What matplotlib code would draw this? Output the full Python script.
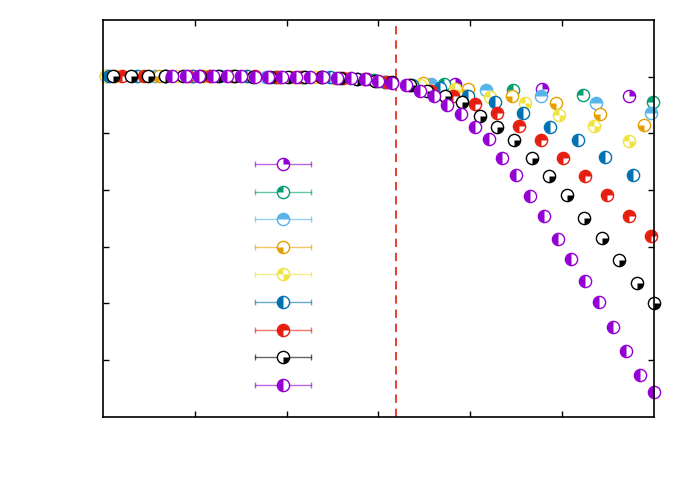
import numpy as np
import matplotlib
matplotlib.use("Agg")
import matplotlib.pyplot as plt
from matplotlib.path import Path

# values (x: 0..6, y: 0..7, plateau ~6)
x_s1 = [0.03, 0.98, 1.93, 2.88, 3.83, 4.78, 5.73]
y_s1 = [6.01, 6.01, 6.00, 5.95, 5.87, 5.79, 5.66]

x_s2 = [0.67, 1.43, 2.19, 2.95, 3.71, 4.47, 5.23, 5.99]
y_s2 = [6.01, 6.01, 5.99, 5.94, 5.87, 5.77, 5.68, 5.55]

x_s3 = [0.57, 1.17, 1.77, 2.37, 2.97, 3.57, 4.17, 4.77, 5.37, 5.97]
y_s3 = [6.01, 6.01, 6.00, 5.99, 5.93, 5.87, 5.77, 5.65, 5.53, 5.35]

x_s4 = [0.13, 0.61, 1.09, 1.57, 2.05, 2.53, 3.01, 3.49, 3.97, 4.45, 4.93, 5.41, 5.89]
y_s4 = [6.01, 6.01, 6.01, 6.01, 6.00, 5.98, 5.92, 5.89, 5.78, 5.66, 5.53, 5.34, 5.15]

x_s5 = [0.03, 0.41, 0.79, 1.17, 1.55, 1.93, 2.31, 2.69, 3.07, 3.45, 3.83, 4.21,
        4.59, 4.97, 5.35, 5.73]
y_s5 = [6.01, 6.01, 6.01, 6.01, 6.01, 6.00, 5.99, 5.97, 5.91, 5.85, 5.78, 5.64,
        5.53, 5.33, 5.13, 4.87]

x_s6 = [0.07, 0.37, 0.67, 0.97, 1.27, 1.57, 1.87, 2.17, 2.47, 2.77, 3.07, 3.37,
        3.67, 3.97, 4.27, 4.57, 4.87, 5.17, 5.47, 5.77]
y_s6 = [6.01, 6.01, 6.01, 6.01, 6.01, 6.01, 6.00, 6.00, 5.99, 5.96, 5.91, 5.86,
        5.80, 5.66, 5.55, 5.36, 5.12, 4.89, 4.58, 4.27]

x_s7 = [0.21, 0.45, 0.69, 0.93, 1.17, 1.41, 1.65, 1.89, 2.13, 2.37, 2.61, 2.85,
        3.09, 3.33, 3.57, 3.81, 4.05, 4.29, 4.53, 4.77, 5.01, 5.25, 5.49, 5.73, 5.97]
y_s7 = [6.01, 6.01, 6.01, 6.01, 6.01, 6.01, 6.01, 6.00, 6.00, 5.99, 5.98, 5.95,
        5.91, 5.85, 5.75, 5.65, 5.52, 5.35, 5.13, 4.88, 4.57, 4.25, 3.91, 3.54, 3.19]

x_s8 = [0.11, 0.30, 0.49, 0.68, 0.87, 1.06, 1.25, 1.44, 1.63, 1.82, 2.01, 2.20,
        2.39, 2.58, 2.77, 2.96, 3.15, 3.34, 3.53, 3.72, 3.91, 4.10, 4.29, 4.48,
        4.67, 4.86, 5.05, 5.24, 5.43, 5.62, 5.81, 6.00]
y_s8 = [6.01, 6.01, 6.01, 6.01, 6.01, 6.01, 6.01, 6.01, 6.00, 6.00, 6.00, 5.99,
        5.99, 5.98, 5.96, 5.93, 5.90, 5.85, 5.75, 5.66, 5.55, 5.31, 5.12, 4.88,
        4.56, 4.25, 3.91, 3.51, 3.16, 2.76, 2.35, 2.00]

x_s9 = [0.75, 0.90, 1.05, 1.20, 1.35, 1.50, 1.65, 1.80, 1.95, 2.10, 2.25, 2.40,
        2.55, 2.70, 2.85, 3.00, 3.15, 3.30, 3.45, 3.60, 3.75, 3.90, 4.05, 4.20,
        4.35, 4.50, 4.65, 4.80, 4.95, 5.10, 5.25, 5.40, 5.55, 5.70, 5.85, 6.00]
y_s9 = [6.01, 6.01, 6.01, 6.01, 6.01, 6.01, 6.00, 6.00, 6.00, 5.99, 5.99, 5.99,
        5.98, 5.97, 5.95, 5.93, 5.89, 5.85, 5.75, 5.66, 5.50, 5.34, 5.11, 4.90,
        4.56, 4.27, 3.90, 3.54, 3.13, 2.78, 2.39, 2.02, 1.58, 1.16, 0.74, 0.43]

x_crit = 3.19

xs = [x_s1, x_s2, x_s3, x_s4, x_s5, x_s6, x_s7, x_s8, x_s9]
ys = [y_s1, y_s2, y_s3, y_s4, y_s5, y_s6, y_s7, y_s8, y_s9]
colors = ['#9400D3', '#009E73', '#56B4E9', '#E69F00', '#F0E442',
          '#0072B2', '#E51E10', '#000000', '#9400D3']
# filled parts of each circle (degrees)
fills = [[(0, 90)], [(90, 180)], [(0, 180)], [(180, 270)], [(90, 180), (270, 360)],
         [(90, 270)], [(0, 270)], [(270, 360)], [(90, 270)]]


def fill_marker(parts):
    paths = [Path.wedge(a, b) for a, b in parts]
    return Path.make_compound_path(*paths)


fig = plt.figure(figsize=(6.92, 4.85), dpi=100)
ax = fig.add_axes([0.1488, 0.139, 0.7963, 0.8177])

ms = 8.8
mew = 1.0
for i in range(len(xs)):
    ax.plot(xs[i], ys[i], ls='', marker='o', ms=ms, mfc='white', mec=colors[i],
            mew=mew, clip_on=False, zorder=2)
    ax.plot(xs[i], ys[i], ls='', marker=fill_marker(fills[i]), ms=ms - 0.4,
            mfc=colors[i], mec='none', clip_on=False, zorder=2)

ax.axvline(x_crit, color='#E51E10', lw=1.2, ls=(0, (5, 3.5)), zorder=1)

# key (no text), drawn in axes coordinates
lx, lhalf = 0.327, 0.0508
ly0, lstep = 0.637, 0.0696
for i in range(len(xs)):
    yy = ly0 - i * lstep
    ax.plot([lx - lhalf, lx + lhalf], [yy, yy], transform=ax.transAxes,
            color=colors[i], alpha=0.6, lw=1.0)
    ax.plot([lx - lhalf, lx + lhalf], [yy, yy], transform=ax.transAxes, ls='',
            marker='|', ms=5, mew=1.0, color=colors[i], alpha=0.6)
    ax.plot([lx], [yy], transform=ax.transAxes, ls='', marker='o', ms=ms,
            mfc='white', mec=colors[i], mew=mew)
    ax.plot([lx], [yy], transform=ax.transAxes, ls='', marker=fill_marker(fills[i]),
            ms=ms - 0.4, mfc=colors[i], mec='none')

ax.set_xlim(0, 6)
ax.set_ylim(0, 7)
ax.set_xticks(np.arange(1, 6))
ax.set_yticks(np.arange(1, 7))
ax.tick_params(direction='in', top=True, right=True, length=4, width=1.0,
               labelbottom=False, labelleft=False)
for s in ax.spines.values():
    s.set_linewidth(1.2)

fig.savefig('out.png', dpi=100)
